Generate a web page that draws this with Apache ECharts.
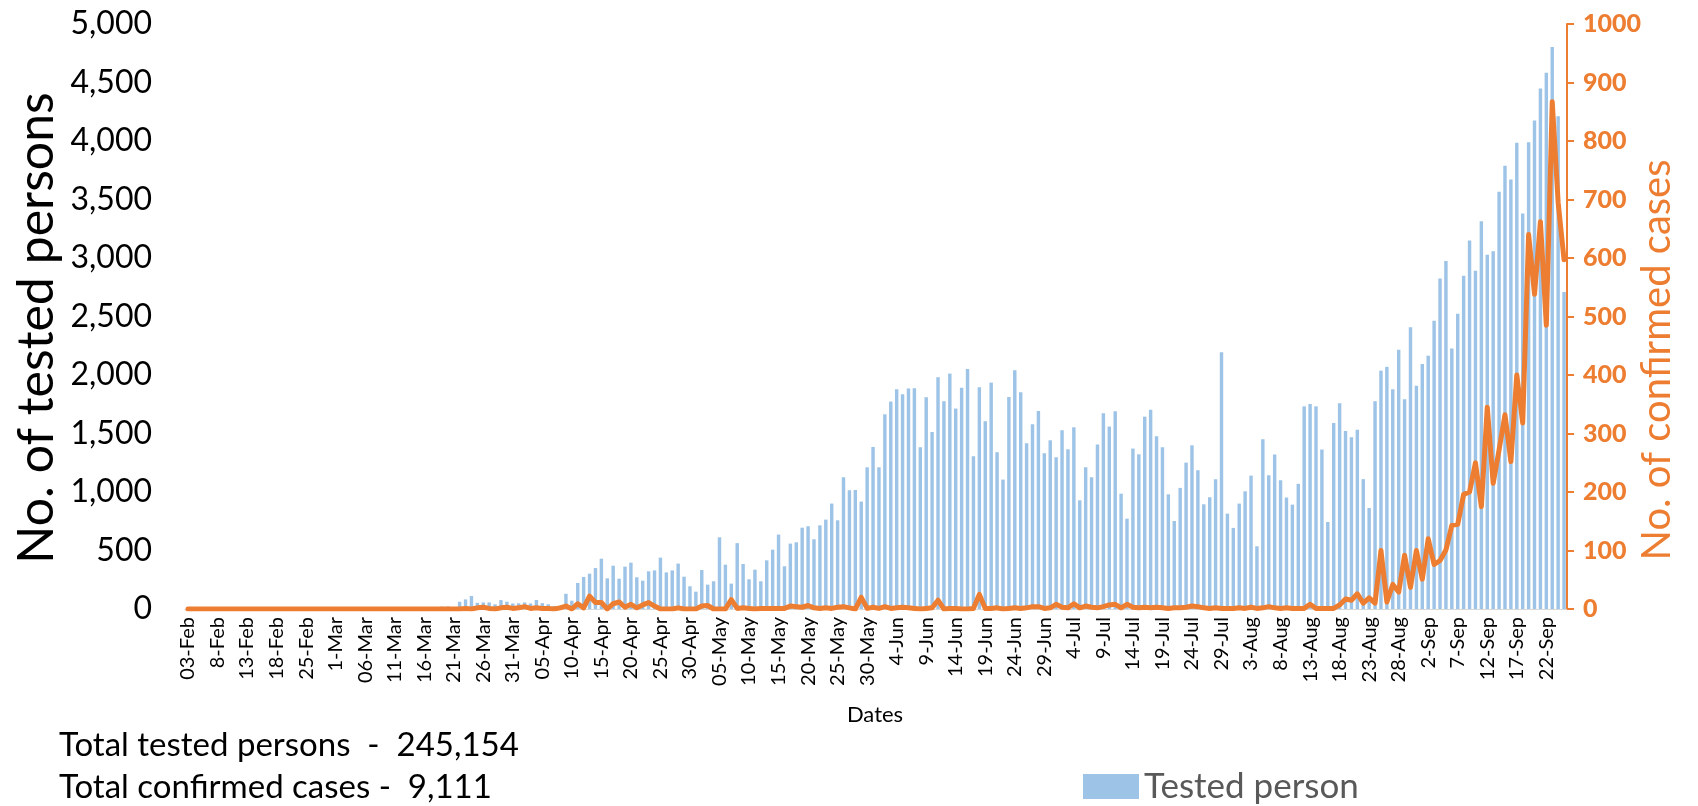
<!DOCTYPE html>
<html>
<head>
<meta charset="utf-8">
<title>Tested persons and confirmed cases</title>
<script src="https://cdn.jsdelivr.net/npm/echarts@6/dist/echarts.min.js"></script>
<style>
  html, body { margin: 0; padding: 0; background: #fff; }
  #chart { width: 1698px; height: 806px; }
</style>
</head>
<body>
<div id="chart"></div>
<script>
// x 轴上显示的日期标签（每 5 个类目一个）
const tickLabels = ['03-Feb', '8-Feb', '13-Feb', '18-Feb', '25-Feb', '1-Mar', '06-Mar', '11-Mar', '16-Mar',
  '21-Mar', '26-Mar', '31-Mar', '05-Apr', '10-Apr', '15-Apr', '20-Apr', '25-Apr', '30-Apr', '05-May',
  '10-May', '15-May', '20-May', '25-May', '30-May', '4-Jun', '9-Jun', '14-Jun', '19-Jun', '24-Jun',
  '29-Jun', '4-Jul', '9-Jul', '14-Jul', '19-Jul', '24-Jul', '29-Jul', '3-Aug', '8-Aug', '13-Aug',
  '18-Aug', '23-Aug', '28-Aug', '2-Sep', '7-Sep', '12-Sep', '17-Sep', '22-Sep'];

// 每日检测人数（03-Feb 到 25-Sep）
const tested = [
  0, 0, 0, 0, 0, 0, 0, 0, 0, 0,
  0, 0, 0, 0, 0, 0, 0, 0, 0, 0,
  0, 0, 0, 0, 0, 0, 0, 0, 0, 0,
  0, 0, 0, 0, 0, 0, 0, 0, 0, 0,
  0, 0, 0, 20, 22, 0, 62, 82, 111, 53,
  56, 56, 40, 76, 62, 47, 49, 56, 47, 77,
  50, 40, 25, 27, 130, 71, 222, 274, 302, 350,
  430, 262, 370, 259, 362, 396, 271, 242, 322, 330,
  439, 313, 330, 388, 276, 194, 148, 333, 208, 237,
  613, 379, 217, 563, 385, 254, 336, 237, 416, 507,
  636, 365, 559, 570, 695, 707, 596, 715, 764, 901,
  758, 1126, 1015, 1017, 918, 1211, 1385, 1211, 1664, 1773,
  1878, 1835, 1884, 1887, 1382, 1810, 1513, 1981, 1776, 2012,
  1713, 1890, 2052, 1305, 1895, 1605, 1935, 1340, 1106, 1812,
  2041, 1852, 1416, 1579, 1693, 1331, 1442, 1297, 1528, 1365,
  1553, 929, 1211, 1126, 1405, 1673, 1559, 1690, 986, 772,
  1371, 1322, 1644, 1704, 1476, 1382, 980, 752, 1035, 1251,
  1399, 1186, 895, 955, 1109, 2195, 815, 693, 901, 1006,
  1140, 536, 1451, 1143, 1320, 1100, 953, 892, 1070, 1732,
  1752, 1732, 1363, 744, 1590, 1759, 1522, 1468, 1532, 1110,
  863, 1776, 2037, 2070, 1878, 2216, 1793, 2409, 1908, 2094,
  2165, 2463, 2825, 2974, 2226, 2524, 2848, 3150, 2892, 3315,
  3028, 3058, 3566, 3789, 3671, 3985, 3380, 3989, 4175, 4449,
  4584, 4804, 4212, 2710
];

// 每日确诊人数
const confirmed = [
  0, 0, 0, 0, 0, 0, 0, 0, 0, 0,
  0, 0, 0, 0, 0, 0, 0, 0, 0, 0,
  0, 0, 0, 0, 0, 0, 0, 0, 0, 0,
  0, 0, 0, 0, 0, 0, 0, 0, 0, 0,
  0, 0, 0, 0, 0, 0, 0, 1, 0, 2,
  3, 1, 0, 2, 3, 1, 2, 4, 1, 2,
  1, 1, 0, 2, 5, 0, 9, 2, 22, 11,
  11, 0, 9, 12, 3, 8, 2, 7, 11, 5,
  0, 0, 0, 2, 0, 0, 0, 5, 6, 0,
  0, 0, 16, 1, 2, 1, 0, 1, 1, 1,
  1, 1, 5, 4, 3, 6, 2, 1, 2, 1,
  3, 4, 2, 0, 20, 1, 3, 1, 4, 1,
  2, 3, 2, 1, 0, 1, 2, 15, 0, 1,
  1, 0, 0, 1, 25, 1, 1, 2, 0, 1,
  2, 1, 2, 4, 4, 1, 2, 8, 3, 2,
  9, 2, 5, 3, 2, 4, 7, 8, 2, 8,
  3, 2, 3, 2, 3, 2, 1, 2, 2, 3,
  5, 4, 2, 1, 2, 1, 1, 1, 2, 1,
  3, 1, 2, 4, 2, 1, 2, 1, 1, 1,
  8, 1, 1, 1, 1, 7, 17, 15, 26, 10,
  19, 10, 100, 12, 42, 29, 92, 37, 100, 51,
  120, 76, 83, 101, 143, 145, 196, 200, 250, 175,
  345, 215, 272, 332, 252, 400, 318, 640, 538, 662,
  485, 867, 695, 597
];

// 类目：2020-02-03 到 2020-09-25，原数据缺 21、22 Feb
const months = ['Jan', 'Feb', 'Mar', 'Apr', 'May', 'Jun', 'Jul', 'Aug', 'Sep'];
const dates = [];
for (let d = new Date(2020, 1, 3); d <= new Date(2020, 8, 25); d.setDate(d.getDate() + 1)) {
  if (d.getMonth() === 1 && (d.getDate() === 21 || d.getDate() === 22)) continue;
  dates.push(d.getDate() + '-' + months[d.getMonth()]);
}
const categories = dates.map((d, i) => (i % 5 === 0 ? tickLabels[i / 5] : d));

const orange = '#ED7D31';
const font = 'Lato';

const myChart = echarts.init(document.getElementById('chart'));
const option = {
  animation: false,
  textStyle: { fontFamily: font },
  grid: { left: 185, right: 131, top: 24, bottom: 197 },
  legend: {
    data: ['Tested person'],
    left: 1083,
    top: 769,
    padding: 0,
    icon: 'rect',
    itemWidth: 56,
    itemHeight: 25,
    textStyle: { fontFamily: font, fontSize: 35, color: '#595959' }
  },
  xAxis: {
    type: 'category',
    data: categories,
    axisTick: { show: false },
    axisLine: { lineStyle: { color: '#D9D9D9', width: 1 } },
    axisLabel: {
      interval: 4,
      rotate: 90,
      margin: 8,
      fontFamily: font,
      fontSize: 20,
      color: '#000'
    }
  },
  yAxis: [
    {
      type: 'value',
      min: 0,
      max: 5000,
      interval: 500,
      axisLine: { show: false },
      axisTick: { show: false },
      splitLine: { show: false },
      axisLabel: {
        margin: 33,
        fontFamily: font,
        fontSize: 32,
        color: '#000',
        formatter: (v) => v.toLocaleString('en-US')
      }
    },
    {
      type: 'value',
      position: 'right',
      min: 0,
      max: 1000,
      interval: 100,
      axisLine: { show: true, lineStyle: { color: orange, width: 2 } },
      axisTick: { show: true, length: 7, lineStyle: { color: orange, width: 2 } },
      splitLine: { show: false },
      axisLabel: {
        margin: 16,
        fontFamily: font,
        fontSize: 25,
        fontWeight: 900,
        color: orange,
        formatter: (v) => String(v)
      }
    }
  ],
  series: [
    {
      name: 'Tested person',
      type: 'bar',
      data: tested,
      yAxisIndex: 0,
      barWidth: '58%',
      itemStyle: { color: '#9DC3E6' }
    },
    {
      name: 'Confirmed cases',
      type: 'line',
      data: confirmed,
      yAxisIndex: 1,
      symbol: 'none',
      lineStyle: { color: orange, width: 5, cap: 'round', join: 'round' }
    }
  ],
  graphic: [
    {
      type: 'text', x: 37, y: 328, rotation: Math.PI / 2,
      style: { text: 'No. of tested persons', font: '50px Lato', fill: '#000', align: 'center', verticalAlign: 'middle' }
    },
    {
      type: 'text', x: 1657, y: 360, rotation: Math.PI / 2,
      style: { text: 'No. of confirmed cases', font: '40px Lato', fill: orange, align: 'center', verticalAlign: 'middle' }
    },
    {
      type: 'text', x: 875, y: 715,
      style: { text: 'Dates', font: '22px Lato', fill: '#000', align: 'center', verticalAlign: 'middle' }
    },
    {
      type: 'text', x: 59, y: 745,
      style: { text: 'Total tested persons  -  245,154', font: '33px Lato', fill: '#000', verticalAlign: 'middle' }
    },
    {
      type: 'text', x: 59, y: 787,
      style: { text: 'Total confirmed cases -  9,111', font: '33px Lato', fill: '#000', verticalAlign: 'middle' }
    }
  ]
};
myChart.setOption(option);
</script>
</body>
</html>
